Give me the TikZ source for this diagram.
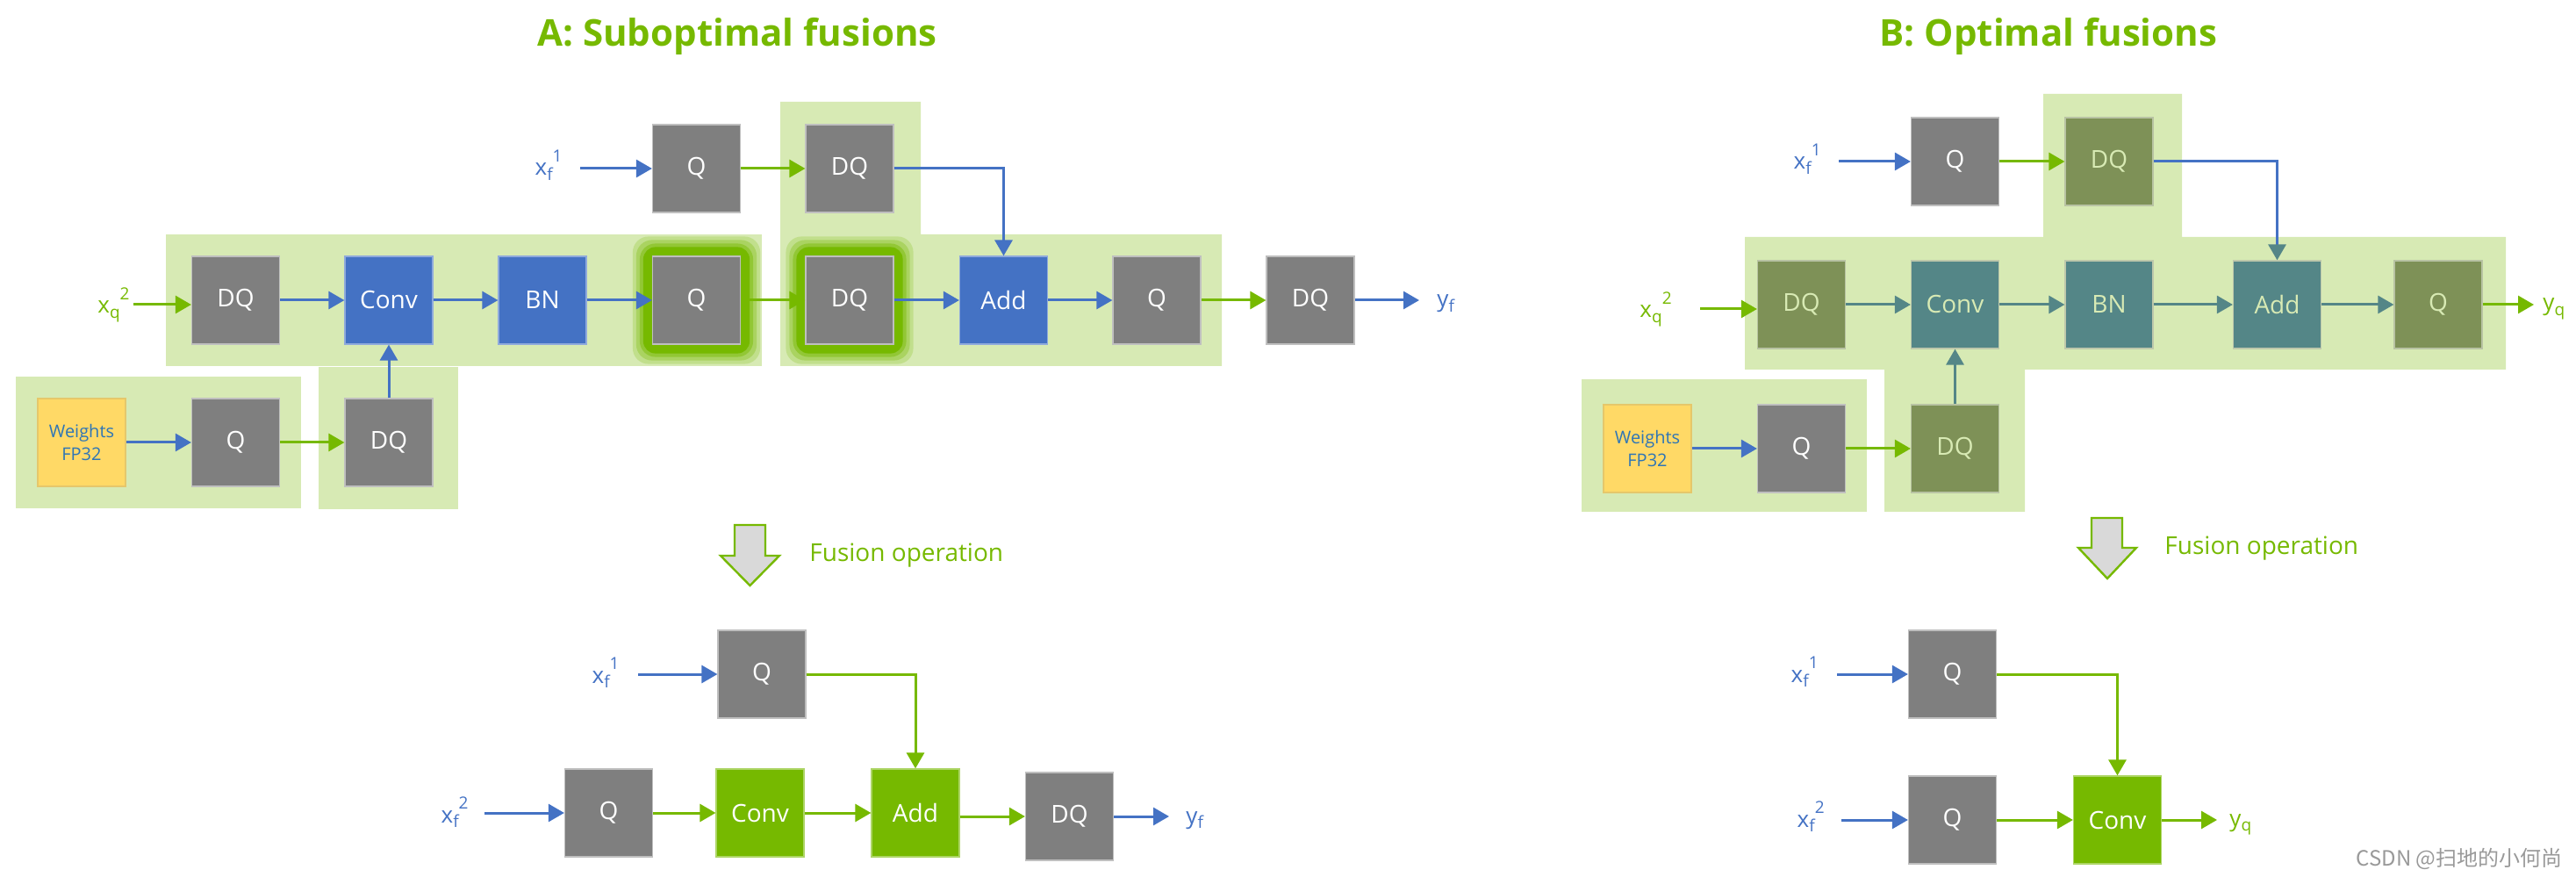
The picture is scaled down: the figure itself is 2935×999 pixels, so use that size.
\documentclass[tikz,border=0pt]{standalone}
\usepackage{fontspec}
\setmainfont{Open Sans}
\newfontfamily\cjkfont{Noto Sans CJK SC}
\usetikzlibrary{arrows.meta,calc}
\definecolor{cgray}{HTML}{7F7F7F}
\definecolor{cgrayb}{HTML}{BFBFBF}
\definecolor{cblue}{HTML}{4472C4}
\definecolor{cgreen}{HTML}{76B900}
\definecolor{cbg}{HTML}{D7EAB4}
\definecolor{colive}{HTML}{7E9157}
\definecolor{cteal}{HTML}{548687}
\definecolor{ctxtB}{HTML}{D8EAB4}
\definecolor{cyellow}{HTML}{FFD966}
\definecolor{cwtxt}{HTML}{2E75B6}
\definecolor{cfus}{HTML}{D9D9D9}
\pgfdeclarelayer{bglayer}
\pgfdeclarelayer{glowlayer}
\pgfsetlayers{bglayer,glowlayer,main}
\newcommand\vlab[3]{#1\raisebox{-0.22em}{\fontsize{9.5pt}{10pt}\selectfont #2}\raisebox{0.6em}{\fontsize{9.5pt}{10pt}\selectfont #3}}
\newcommand\ylab[2]{#1\raisebox{-0.22em}{\fontsize{9.5pt}{10pt}\selectfont #2}}
\tikzset{
  box/.style={minimum width=50pt, minimum height=50pt, inner sep=0pt, line width=0.6pt,
    font=\fontsize{14pt}{16pt}\selectfont, text=white},
  graybox/.style={box, fill=cgray, draw=cgrayb},
  bluebox/.style={box, fill=cblue, draw=cblue!60!white},
  greenbox/.style={box, fill=cgreen, draw=cgreen!60!white},
  olivebox/.style={box, fill=colive, draw=colive!55!white, text=ctxtB},
  tealbox/.style={box, fill=cteal, draw=colive!50!white, text=ctxtB},
  wbox/.style={box, fill=cyellow, draw=cyellow!80!gray, text=cwtxt, align=center,
    font=\fontsize{10pt}{13pt}\selectfont},
  conn/.style={line width=1.5pt, -{Triangle[length=9pt,width=10pt]}},
  bl/.style={conn, cblue},
  gr/.style={conn, cgreen},
  tl/.style={conn, cteal},
  lab/.style={inner sep=0pt, font=\fontsize{13pt}{15pt}\selectfont},
  ttl/.style={font=\fontsize{21pt}{24pt}\selectfont\bfseries, text=cgreen},
  fus/.style={font=\fontsize{14pt}{16pt}\selectfont, text=cgreen, anchor=west, inner sep=0pt},
  bgarea/.style={fill=cbg},
  fusarrow/.style={fill=cfus, draw=cgreen, line width=1.2pt, line join=miter}
}
\newcommand\glowbox[1]{%
  \foreach \d/\o in {22/0.22,18/0.3,14/0.45}{%
    \fill[cgreen, opacity=\o, rounded corners=9pt] ($(#1.south west)+(-\d,\d)$) rectangle ($(#1.north east)+(\d,-\d)$);}
  \fill[cgreen, rounded corners=7pt] ($(#1.south west)+(-10,10)$) rectangle ($(#1.north east)+(10,-10)$);}
\begin{document}
\begin{tikzpicture}[x=0.5pt, y=-0.5pt]
\useasboundingbox (0,0) rectangle (2935,999);

% ---------- titles ----------
\node[ttl] (tA) at (840,41) {A: Suboptimal fusions};
\node[ttl] (tB) at (2334,41) {B: Optimal fusions};

% ---------- A backgrounds ----------
\begin{pgfonlayer}{bglayer}
\fill[bgarea] (189,267) rectangle (868,417);
\fill[bgarea] (889,116) -- (1049,116) -- (1049,267) -- (1392,267) -- (1392,417) -- (889,417) -- cycle;
\fill[bgarea] (18,429) rectangle (343,579);
\fill[bgarea] (363,418) rectangle (522,580);
% B backgrounds
\fill[bgarea] (1988,270) -- (2328,270) -- (2328,107) -- (2486,107) -- (2486,270) -- (2855,270)
  -- (2855,421) -- (2307,421) -- (2307,583) -- (2147,583) -- (2147,421) -- (1988,421) -- cycle;
\fill[bgarea] (1802,432) rectangle (2127,583);
\end{pgfonlayer}

% ---------- A upper nodes ----------
\node[graybox] (Qt) at (793.5,192) {Q};
\node[graybox] (DQt) at (968,192) {DQ};
\node[graybox] (DQ1) at (268.5,342) {DQ};
\node[bluebox] (Conv1) at (443,342) {Conv};
\node[bluebox] (BN1) at (618,342) {BN};
\node[graybox] (Q2) at (793.5,342) {Q};
\node[graybox] (DQ2) at (968,342) {DQ};
\node[bluebox] (Add1) at (1143.5,342) {Add};
\node[graybox] (Q3) at (1318,342) {Q};
\node[graybox] (DQ3) at (1493,342) {DQ};
\node[wbox] (W1) at (93,504) {Weights\\FP32};
\node[graybox] (Qw) at (268.5,504) {Q};
\node[graybox] (DQw) at (443,504) {DQ};

\begin{pgfonlayer}{glowlayer}
\glowbox{Q2}
\glowbox{DQ2}
\end{pgfonlayer}

\coordinate (ix1) at (661,192);
\coordinate (ixq) at (152,347);
\coordinate (oy) at (1617,342);
\node[lab, cblue, anchor=base east] (lx1) at (641,200) {\vlab{x}{f}{1}};
\node[lab, cgreen, anchor=base east] (lxq) at (148,357) {\vlab{x}{q}{2}};
\node[lab, cblue, anchor=base west] (ly) at (1637,350) {\ylab{y}{f}};

\draw[bl] (ix1) -- (Qt);
\draw[gr] (Qt) -- (DQt);
\draw[bl] (DQt.east) -| (Add1.north);
\draw[gr] (ixq) -- (ixq -| DQ1.west);
\draw[bl] (DQ1) -- (Conv1);
\draw[bl] (Conv1) -- (BN1);
\draw[bl] (BN1) -- (Q2);
\draw[gr] (Q2) -- (DQ2);
\draw[bl] (DQ2) -- (Add1);
\draw[bl] (Add1) -- (Q3);
\draw[gr] (Q3) -- (DQ3);
\draw[bl] (DQ3) -- (oy);
\draw[bl] (W1) -- (Qw);
\draw[gr] (Qw) -- (DQw);
\draw[bl] (DQw) -- (Conv1);

% ---------- A fusion arrow ----------
\draw[fusarrow] (837,598) -- (872,598) -- (872,633) -- (888,633) -- (854.5,667) -- (821,633) -- (837,633) -- cycle;
\node[fus] (fA) at (922,633) {Fusion operation};

% ---------- A lower ----------
\node[graybox] (Ql1) at (868,768) {Q};
\node[graybox] (Ql2) at (693.5,926) {Q};
\node[greenbox] (Convl) at (866,926) {Conv};
\node[greenbox] (Addl) at (1043,926) {Add};
\node[graybox] (DQl) at (1218.5,930) {DQ};
\coordinate (ixl1) at (727,768);
\coordinate (ixl2) at (552,926);
\coordinate (oyl) at (1332,930);
\node[lab, cblue, anchor=base east] (llx1) at (706,778) {\vlab{x}{f}{1}};
\node[lab, cblue, anchor=base east] (llx2) at (534,937) {\vlab{x}{f}{2}};
\node[lab, cblue, anchor=base west] (lly) at (1351,938) {\ylab{y}{f}};
\draw[bl] (ixl1) -- (Ql1);
\draw[gr] (Ql1.east) -| (Addl.north);
\draw[bl] (ixl2) -- (Ql2);
\draw[gr] (Ql2) -- (Convl);
\draw[gr] (Convl) -- (Addl);
\draw[gr] (Addl.east |- DQl.west) -- (DQl.west);
\draw[bl] (DQl) -- (oyl);

% ---------- B upper nodes ----------
\node[graybox] (QtB) at (2227.5,184) {Q};
\node[olivebox] (DQtB) at (2403,184) {DQ};
\node[olivebox] (DQB1) at (2052.5,347) {DQ};
\node[tealbox] (ConvB) at (2227.5,347) {Conv};
\node[tealbox] (BNB) at (2403,347) {BN};
\node[tealbox] (AddB) at (2594.5,347) {Add};
\node[olivebox] (QB) at (2778,347) {Q};
\node[wbox] (WB) at (1877,511) {Weights\\FP32};
\node[graybox] (QwB) at (2052.5,511) {Q};
\node[olivebox] (DQwB) at (2227.5,511) {DQ};
\coordinate (ixB1) at (2095,184);
\coordinate (ixBq) at (1937,352);
\coordinate (oyB) at (2887,347);
\node[lab, cblue, anchor=base east] (lbx1) at (2075,193) {\vlab{x}{f}{1}};
\node[lab, cgreen, anchor=base east] (lbxq) at (1905,362) {\vlab{x}{q}{2}};
\node[lab, cgreen, anchor=base west] (lby) at (2897,354) {\ylab{y}{q}};
\draw[bl] (ixB1) -- (QtB);
\draw[gr] (QtB) -- (DQtB);
\draw[line width=1.5pt, cblue, -{Triangle[length=9pt,width=10pt,color=cteal]}] (DQtB.east) -| (AddB.north);
\draw[gr] (ixBq) -- (ixBq -| DQB1.west);
\draw[tl] (DQB1) -- (ConvB);
\draw[tl] (ConvB) -- (BNB);
\draw[tl] (BNB) -- (AddB);
\draw[tl] (AddB) -- (QB);
\draw[gr] (QB) -- (oyB);
\draw[bl] (WB) -- (QwB);
\draw[gr] (QwB) -- (DQwB);
\draw[tl] (DQwB) -- (ConvB);

% ---------- B fusion arrow ----------
\draw[fusarrow] (2383,590) -- (2418,590) -- (2418,624) -- (2434,624) -- (2401,659) -- (2368,624) -- (2383,624) -- cycle;
\node[fus] (fB) at (2466,625) {Fusion operation};

% ---------- B lower ----------
\node[graybox] (QlB1) at (2224.5,768) {Q};
\node[graybox] (QlB2) at (2224.5,934) {Q};
\node[greenbox] (ConvlB) at (2412.5,934) {Conv};
\coordinate (ixlB1) at (2093,768);
\coordinate (ixlB2) at (2098,934);
\coordinate (oylB) at (2526,934);
\node[lab, cblue, anchor=base east] (lblx1) at (2072,777) {\vlab{x}{f}{1}};
\node[lab, cblue, anchor=base east] (lblx2) at (2079,942) {\vlab{x}{f}{2}};
\node[lab, cgreen, anchor=base west] (lbly) at (2540,941) {\ylab{y}{q}};
\draw[bl] (ixlB1) -- (QlB1);
\draw[gr] (QlB1.east) -| (ConvlB.north);
\draw[bl] (ixlB2) -- (QlB2);
\draw[gr] (QlB2) -- (ConvlB);
\draw[gr] (ConvlB) -- (oylB);

% ---------- watermark ----------
\node[anchor=east, inner sep=0pt, text=black!40, font=\cjkfont\fontsize{12pt}{14pt}\selectfont] (wm) at (2920,978) {CSDN @扫地的小何尚};
\end{tikzpicture}
\end{document}
